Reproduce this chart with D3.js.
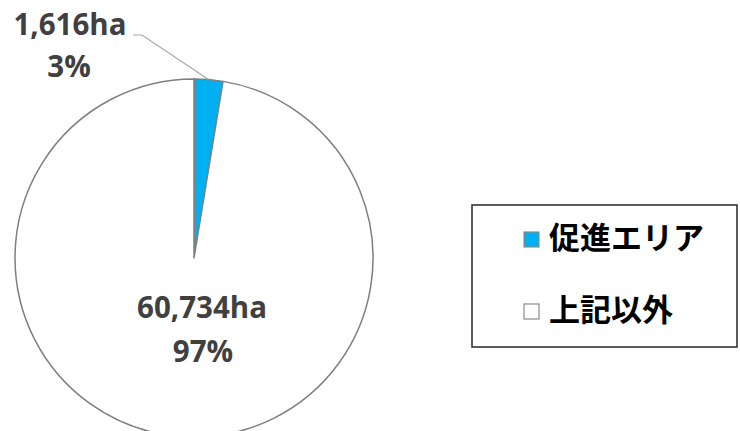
<!DOCTYPE html>
<html><head><meta charset="utf-8">
<script src="https://cdn.jsdelivr.net/npm/d3@7"></script>
<style>html,body{margin:0;padding:0;background:#fff;}svg{display:block;}</style>
</head><body>
<svg id="c" width="740" height="431"></svg>
<script>
const categories = ["促進エリア", "上記以外"];
const values = [1616, 60734];
const valueLabels = ["1,616ha", "60,734ha"];
const percentLabels = ["3%", "97%"];
const colors = ["#00B0F0", "#FFFFFF"];

const svg = d3.select("#c");
const cx = 194, cy = 258, r = 179;
const g = svg.append("g").attr("transform", `translate(${cx},${cy})`);

const pie = d3.pie().sort(null).value(d => d)(values);
const arc = d3.arc().innerRadius(0).outerRadius(r);

g.selectAll("path.slice").data(pie).enter().append("path")
  .attr("class", "slice")
  .attr("d", arc)
  .attr("fill", (d, i) => colors[i])
  .attr("stroke", "#7f7f7f")
  .attr("stroke-width", 1.5)
  .attr("stroke-linejoin", "round");

const labelFont = "'Open Sans', 'Noto Sans', sans-serif";
const s = pie[0];
const mid = (s.startAngle + s.endAngle) / 2;
const p0 = [r * Math.sin(mid), -r * Math.cos(mid)];
g.append("polyline")
  .attr("points", [p0, [142 - cx, 35 - cy], [133 - cx, 35 - cy]].map(p => p.join(",")).join(" "))
  .attr("fill", "none").attr("stroke", "#a6a6a6").attr("stroke-width", 1.2);

const lbl = svg.append("g").attr("font-family", labelFont).attr("font-weight", 700)
  .attr("fill", "#404040").attr("font-size", 29.5).attr("text-anchor", "middle");
lbl.append("text").attr("x", 70).attr("y", 35).text(valueLabels[0]);
lbl.append("text").attr("x", 69).attr("y", 77).text(percentLabels[0]);
lbl.append("text").attr("x", cx + 8).attr("y", 318).text(valueLabels[1]);
lbl.append("text").attr("x", cx + 9).attr("y", 362).text(percentLabels[1]);

const leg = svg.append("g");
leg.append("rect").attr("x", 472).attr("y", 205).attr("width", 265).attr("height", 142)
  .attr("fill", "#fff").attr("stroke", "#262626").attr("stroke-width", 1.5);
const items = leg.selectAll("g.item").data(categories).enter().append("g")
  .attr("class", "item")
  .attr("transform", (d, i) => `translate(524, ${232 + i * 72})`);
items.append("rect").attr("x", 0).attr("y", 0).attr("width", 15).attr("height", 15)
  .attr("fill", (d, i) => colors[i]).attr("stroke", "#8c8c8c").attr("stroke-width", 1.2);
items.append("text").attr("x", 25).attr("y", 17)
  .attr("font-family", "'Noto Sans CJK JP', sans-serif").attr("font-weight", 700)
  .attr("font-size", 31).attr("fill", "#000").text(d => d);
</script>
</body></html>
